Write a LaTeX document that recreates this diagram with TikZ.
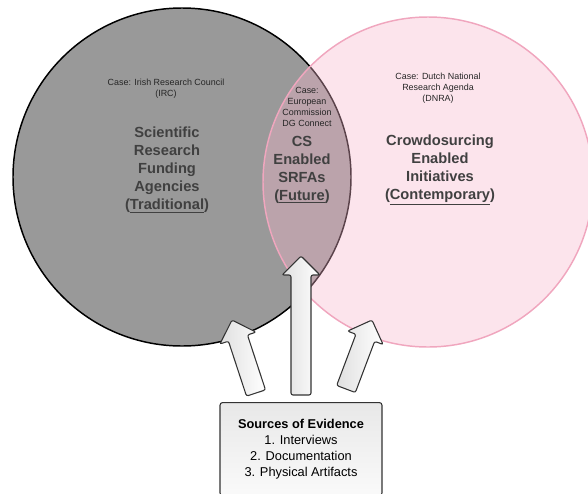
\documentclass[tikz,border=0pt]{standalone}
\usepackage{fontspec}
\setmainfont{Liberation Sans}
\definecolor{agencygray}{HTML}{999999}
\definecolor{crowdpink}{HTML}{F7B6CC}
\definecolor{crowdedge}{HTML}{F0A6BE}
\definecolor{labelgray}{HTML}{404040}
\definecolor{arrowedge}{HTML}{333333}

% block arrow from one named point to another
\makeatletter
\newcommand{\evidencearrow}[2]{%
  \pgfpointdiff{\pgfpointanchor{#1}{center}}{\pgfpointanchor{#2}{center}}%
  \edef\evdx{\the\pgf@x}\edef\evdy{\the\pgf@y}%
  \pgfmathsetmacro{\evangle}{atan2(\evdy,\evdx)}%
  \pgfmathsetmacro{\evneck}{veclen(\evdx,\evdy)-14.25}%
  \pgfmathsetmacro{\evlength}{veclen(\evdx,\evdy)}%
  \begin{scope}[shift={(#1)}, rotate=\evangle]
    \draw[evarrow] (0pt,-7.5pt) -- (\evneck pt,-7.5pt) -- (\evneck pt,-14.25pt)
      -- (\evlength pt,0pt) -- (\evneck pt,14.25pt) -- (\evneck pt,7.5pt)
      -- (0pt,7.5pt) -- cycle;
  \end{scope}}
\makeatother

\begin{document}
\begin{tikzpicture}[
  x=0.75pt, y=-0.75pt,
  venn/.style={circle, minimum size=#1, inner sep=0pt, line width=1.1pt},
  casetext/.style={font=\fontsize{6.7}{8.2}\selectfont, align=center, text=black!85},
  headtext/.style={font=\fontsize{11}{13.5}\selectfont\bfseries, align=center, text=labelgray},
  evarrow/.style={draw=arrowedge, line width=0.8pt, rounded corners=1.5pt,
    left color=gray!25, right color=white},
  evbox/.style={draw=arrowedge, line width=0.8pt, rounded corners=2pt, top color=gray!18,
    bottom color=gray!4, minimum width=121.5pt, minimum height=69.75pt, anchor=north,
    align=center, font=\fontsize{9.6}{12}\selectfont}
]
\useasboundingbox (0,0) rectangle (588,493);
\clip (0,0) rectangle (588,493);

% Venn circles
\node[venn=253.5pt, fill=agencygray, draw=black] (agencies) at (182,177) {};
\node[venn=247.5pt, fill=crowdpink, fill opacity=0.37, draw=crowdedge] (crowd) at (428,182) {};

% Cases and headings
\node[casetext] (ircCase) at (166,89) {Case: Irish Research Council\\(IRC)};
\node[headtext] (ircHead) at (167,170) {Scientific\\Research\\Funding\\Agencies\\(\underline{Traditional})};

\node[casetext] (ecCase) at (307,107) {Case:\\European\\Commission\\DG Connect};
\node[headtext] (ecHead) at (302,170) {CS\\Enabled\\SRFAs\\(\underline{Future})};

\node[casetext] (dnraCase) at (438,88) {Case: Dutch National\\Research Agenda\\(DNRA)};
\node[headtext] (dnraHead) at (440,170) {Crowdosurcing\\Enabled\\Initiatives\\(\underline{Contemporary})};

% Evidence arrows
\coordinate (baseL) at (256,393);
\coordinate (tipL) at (232,320);
\coordinate (baseM) at (301,395);
\coordinate (tipM) at (301,256);
\coordinate (baseR) at (346,389);
\coordinate (tipR) at (372,320);
\evidencearrow{baseL}{tipL}
\evidencearrow{baseM}{tipM}
\evidencearrow{baseR}{tipR}

% Sources
\node[evbox] (evidence) at (301,402) {\textbf{Sources of Evidence}\\1. Interviews\\2. Documentation\\3. Physical Artifacts};

\end{tikzpicture}
\end{document}
